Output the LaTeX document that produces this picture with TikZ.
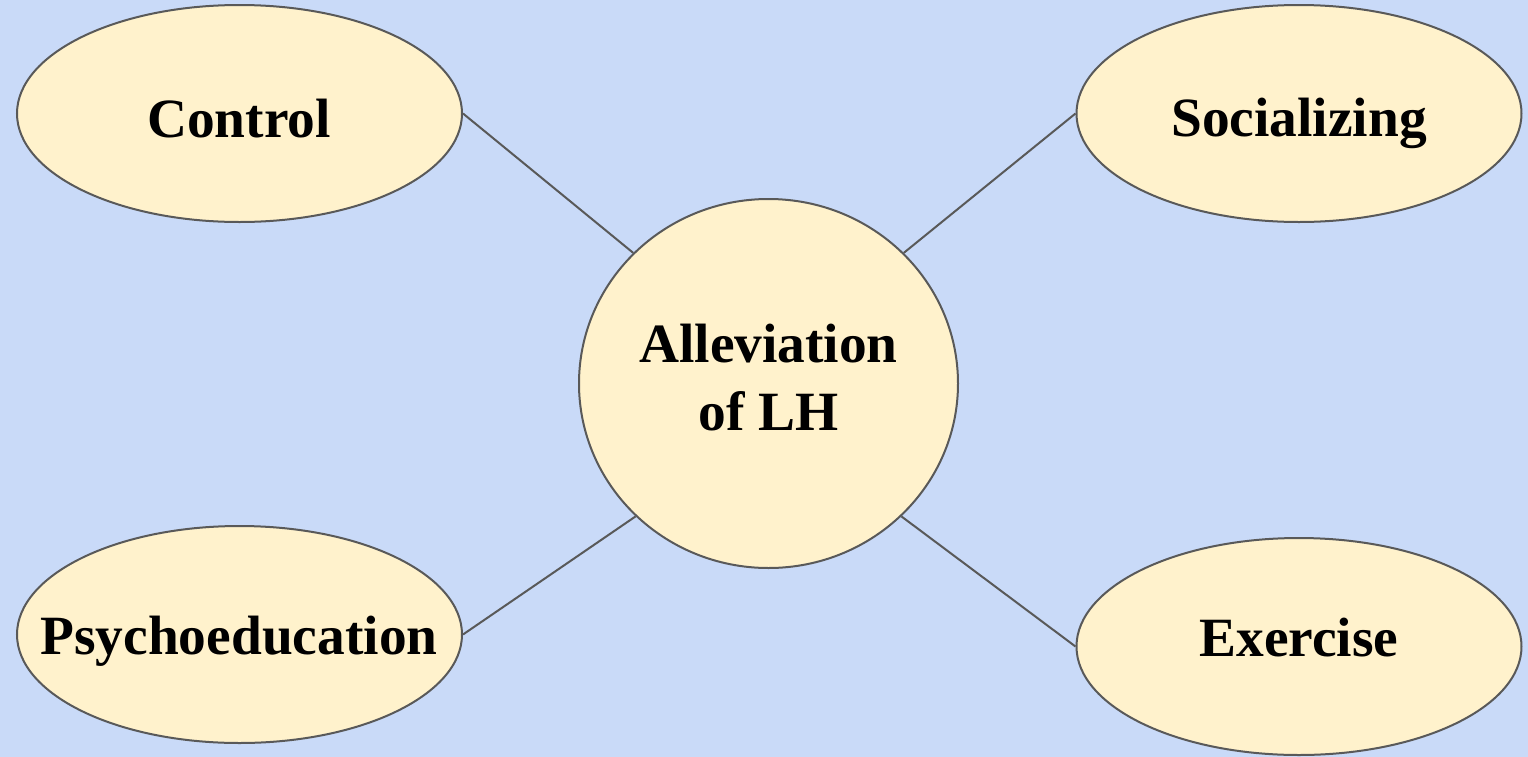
\documentclass[tikz,border=0pt]{standalone}
\usepackage{fontspec}
\setmainfont{Liberation Serif}
\usetikzlibrary{shapes.geometric}
\definecolor{bgblue}{HTML}{C9DAF8}
\definecolor{nodefill}{HTML}{FFF2CC}
\definecolor{edgegray}{HTML}{595959}
\begin{document}
\begin{tikzpicture}[x=0.5pt,y=-0.5pt,
  bubble/.style={ellipse,draw=edgegray,fill=nodefill,line width=1pt,
    inner sep=0pt,minimum width=222.5pt,minimum height=108.5pt},
  hub/.style={ellipse,draw=edgegray,fill=nodefill,line width=1pt,
    inner sep=0pt,minimum width=189.5pt,minimum height=184.5pt},
  caption/.style={anchor=base,inner sep=0pt,
    font=\fontsize{27.7pt}{34pt}\selectfont\bfseries},
  link/.style={draw=edgegray,line width=1pt}]
  % canvas, painted slightly past the page edges
  \useasboundingbox (0,0) rectangle (1528,756);
  \fill[bgblue] (-6,-6) rectangle (1534,762);

  % shapes
  \node[bubble] (ctrl) at (239.5,113.5) {};
  \node[bubble] (soc)  at (1299,113.5) {};
  \node[bubble] (psy)  at (239.5,634.5) {};
  \node[bubble] (ex)   at (1299,646.5) {};
  \node[hub]    (lh)   at (768.5,383.5) {};

  % labels
  \node[caption] (tctrl) at (239,137) {Control};
  \node[caption] (tsoc)  at (1299,136) {Socializing};
  \node[caption] (tpsy)  at (239,654) {Psychoeducation};
  \node[caption] (tex)   at (1299,656) {Exercise};
  \node[caption] (tlh1)  at (768.5,362) {Alleviation};
  \node[caption] (tlh2)  at (768.5,430) {of LH};

  % spokes
  \draw[link] (ctrl.east) -- (lh.136);
  \draw[link] (soc.west)  -- (lh.44);
  \draw[link] (psy.east)  -- (lh.225);
  \draw[link] (ex.west)   -- (lh.315);
\end{tikzpicture}
\end{document}
